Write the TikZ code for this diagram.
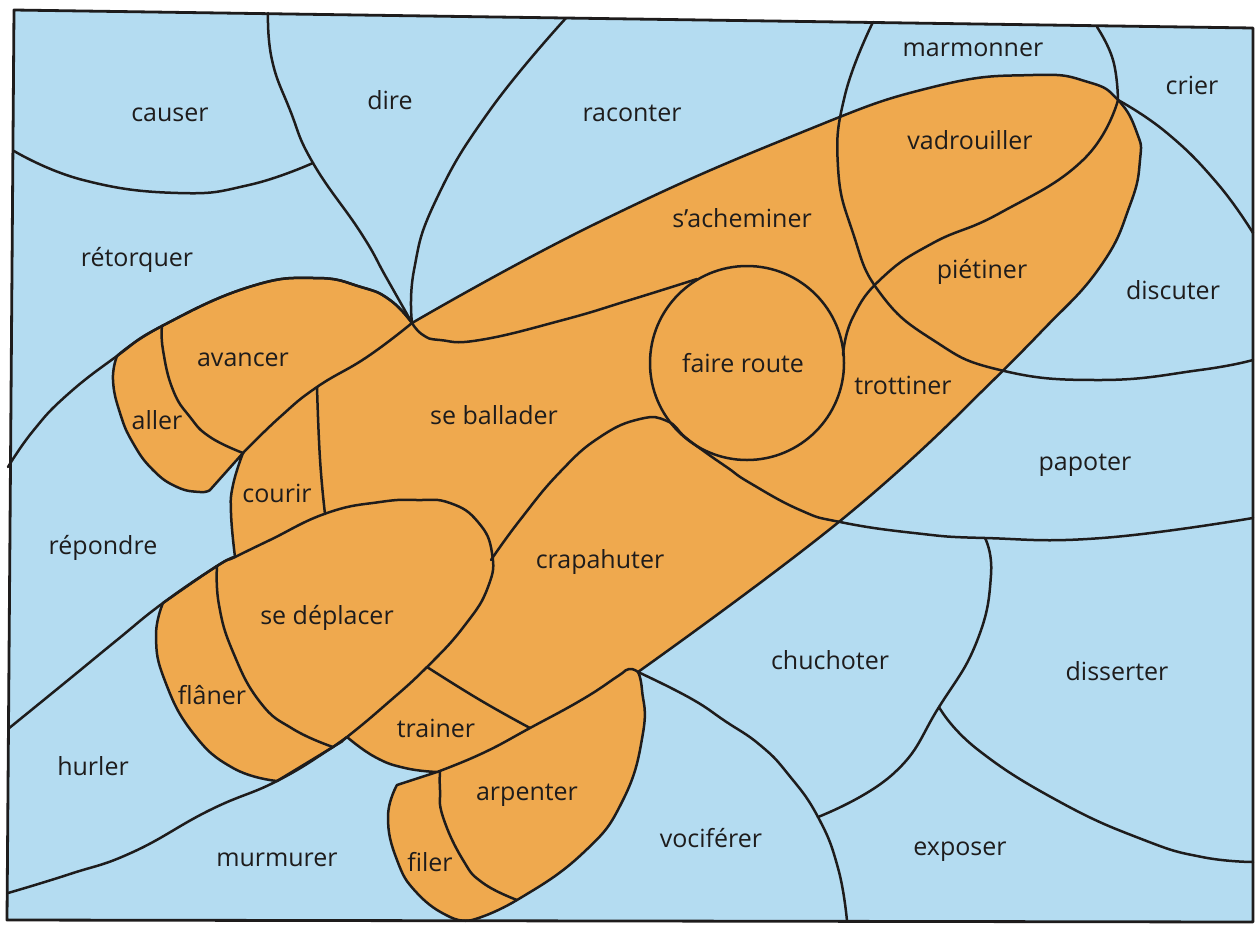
\documentclass[tikz,border=0pt]{standalone}
\usepackage{fontspec}
\setmainfont{Open Sans}
\definecolor{sky}{RGB}{180,220,241}
\definecolor{crayon}{RGB}{239,169,78}
\definecolor{ink}{RGB}{30,28,28}
\begin{document}
\begin{tikzpicture}[x=1pt,y=-1pt,line join=round,line cap=round,
  edge/.style={draw=ink,line width=2.5pt},
  sm/.style={smooth,tension=0.8},
  lbl/.style={font=\fontsize{25}{25}\selectfont,text=ink,inner sep=0pt}]
\useasboundingbox (0,0) rectangle (1255,927);
\fill[white] (0,0) rectangle (1255,927);
\fill[sky] (14,10) -- (1253,28) -- (1253,922) -- (7,920) -- cycle;
% orange union
\filldraw[fill=crayon,edge]
  plot[sm] coordinates {(412,323) (597,223) (800,133) (933,87) (1033,75) (1088,82) (1118,100) (1137,133) (1140,160) (1130,205) (1100,267) (1040,333) (973,400)}
  -- plot[sm] coordinates {(973,400) (840,521) (638,672)}
  -- plot[sm] coordinates {(638,672) (642,690) (643,733) (623,800) (583,853) (517,900) (472,920)}
  -- plot[sm] coordinates {(472,920) (450,917) (417,893) (397,860) (388,817) (397,785)}
  -- (437,772)
  -- plot[sm] coordinates {(437,772) (405,768) (375,757) (347,737)}
  -- (333,747) -- (277,781)
  -- plot[sm] coordinates {(277,781) (233,768) (193,733) (165,681) (156,637) (163,603)}
  -- plot[sm] coordinates {(163,603) (217,566) (235,557)}
  -- plot[sm] coordinates {(235,557) (231,513) (233,485) (243,453)}
  -- (210,490)
  -- plot[sm] coordinates {(210,490) (200,492) (177,487) (153,470) (133,443) (120,413) (113,380) (117,356)}
  -- plot[sm] coordinates {(117,356) (162,326) (249,287) (315,278) (361,287) (390,300) (412,323)}
  -- cycle;
% blue boundaries
\draw[edge] plot[sm] coordinates {(14,151) (83,180) (178,193) (249,185) (313,163)};
\draw[edge] plot[sm] coordinates {(268,13) (272,60) (290,110) (313,163) (361,233) (386,277) (412,323)};
\draw[edge] plot[sm] coordinates {(566,18) (490,110) (436,200) (414,270) (412,323)};
\draw[edge] plot[sm] coordinates {(873,22) (845,95) (838,167) (853,233) (880,293) (933,340) (1000,370) (1100,380) (1200,370) (1253,360)};
\draw[edge] plot[sm] coordinates {(1097,27) (1113,60) (1118,100)};
\draw[edge] plot[sm] coordinates {(1118,100) (1167,133) (1217,183) (1253,233)};
\draw[edge] plot[sm] coordinates {(8,467) (33,431) (67,395) (117,356) (162,326) (249,287) (315,278) (361,287) (390,300) (412,323)};
\draw[edge] plot[sm] coordinates {(8,729) (67,681) (117,640) (163,603) (217,566) (235,557) (270,540) (327,513) (380,502) (417,500) (450,503) (478,522) (492,553) (488,587) (465,625) (427,667) (383,707) (347,737) (333,747) (277,781) (210,810) (133,852) (70,874) (8,893)};
% inner divisions
\draw[edge] plot[sm] coordinates {(412,323) (423,335) (440,340) (480,340) (563,320) (630,300) (697,279)};
\draw[edge] (747,363) circle[radius=97pt];
\draw[edge] plot[sm] coordinates {(1118,100) (1083,160) (1000,213) (933,243) (883,277) (853,317) (843,355)};
\draw[edge] plot[sm] coordinates {(491,560) (520,520) (560,472) (600,437) (640,419) (667,421) (685,437) (705,452) (728,468) (750,483) (800,510) (840,522) (914,533) (985,538) (1102,538) (1253,518)};
\draw[edge] plot[sm] coordinates {(412,323) (367,357) (317,387) (280,417) (243,453)};
\draw[edge] plot[sm] coordinates {(162,326) (163,350) (173,390) (190,417) (210,437) (243,453)};
\draw[edge] plot[sm] coordinates {(317,387) (320,459) (325,514)};
\draw[edge] plot[sm] coordinates {(217,566) (219,605) (233,652) (260,702) (293,729) (333,747)};
\draw[edge] plot[sm] coordinates {(427,667) (480,700) (530,728)};
\draw[edge] plot[sm] coordinates {(437,772) (483,753) (530,728) (583,699) (618,676) (629,669) (638,672)};
\draw[edge] plot[sm] coordinates {(440,771) (440,790) (443,817) (463,860) (483,883) (517,900)};
\draw[edge] plot[sm] coordinates {(638,672) (690,698) (725,721) (760,745) (788,774) (818,817) (838,868) (847,921)};
\draw[edge] plot[sm] coordinates {(985,538) (991,575) (977,641) (939,707) (893,774) (818,817)};
\draw[edge] plot[sm] coordinates {(939,707) (977,749) (1060,802) (1144,840) (1202,857) (1253,862)};
% frame
\draw[ink,line width=2.8pt] (14,10) -- (1253,28) -- (1253,922) -- (7,920) -- cycle;
% labels
\node[lbl] (causer) at (170,115) {causer};
\node[lbl] (dire) at (390,100) {dire};
\node[lbl] (raconter) at (632,113) {raconter};
\node[lbl] (marmonner) at (973,50) {marmonner};
\node[lbl] (crier) at (1192,85) {crier};
\node[lbl] (vadrouiller) at (970,140) {vadrouiller};
\node[lbl] (sacheminer) at (742,218) {s’acheminer};
\node[lbl] (retorquer) at (137,260) {rétorquer};
\node[lbl] (pietiner) at (982,272) {piétiner};
\node[lbl] (discuter) at (1173,290) {discuter};
\node[lbl] (avancer) at (243,360) {avancer};
\node[lbl] (faireroute) at (743,363) {faire route};
\node[lbl] (trottiner) at (903,385) {trottiner};
\node[lbl] (aller) at (157,420) {aller};
\node[lbl] (seballader) at (494,415) {se ballader};
\node[lbl] (papoter) at (1085,465) {papoter};
\node[lbl] (courir) at (277,493) {courir};
\node[lbl] (repondre) at (103,548) {répondre};
\node[lbl] (crapahuter) at (600,562) {crapahuter};
\node[lbl] (sedeplacer) at (327,618) {se déplacer};
\node[lbl] (chuchoter) at (830,660) {chuchoter};
\node[lbl] (disserter) at (1117,671) {disserter};
\node[lbl] (flaner) at (212,695) {flâner};
\node[lbl] (trainer) at (436,728) {trainer};
\node[lbl] (hurler) at (93,766) {hurler};
\node[lbl] (arpenter) at (527,795) {arpenter};
\node[lbl] (vociferer) at (711,838) {vociférer};
\node[lbl] (exposer) at (960,852) {exposer};
\node[lbl] (murmurer) at (277,860) {murmurer};
\node[lbl] (filer) at (430,862) {filer};
\end{tikzpicture}
\end{document}
